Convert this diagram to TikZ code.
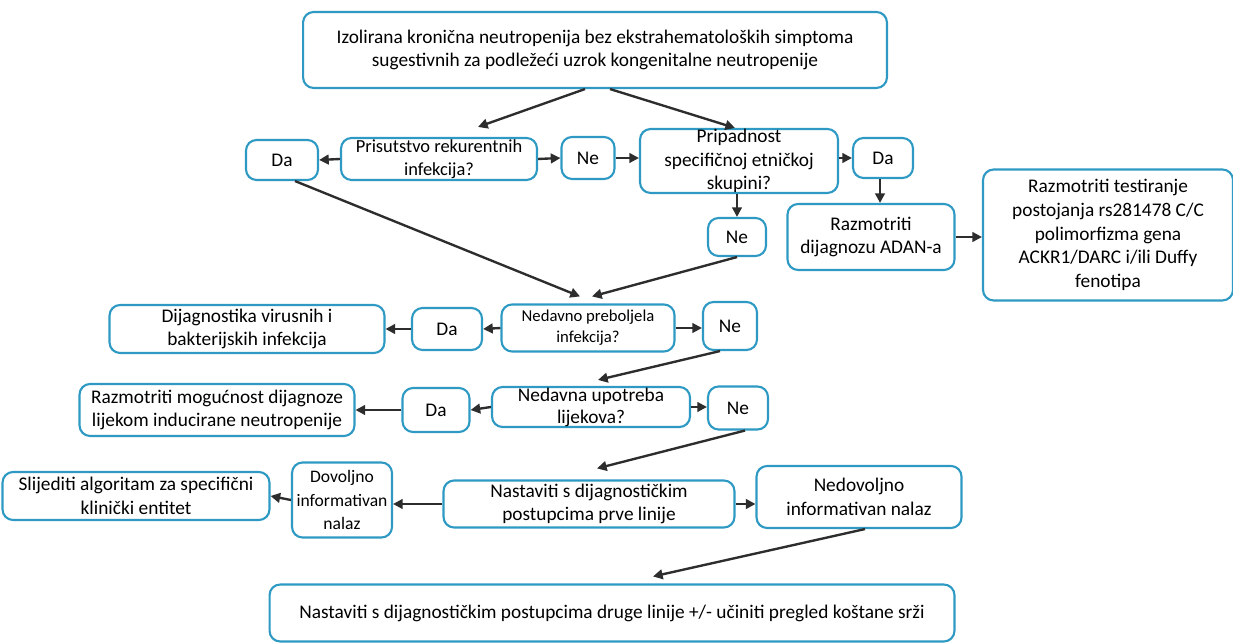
\documentclass[tikz,border=0pt]{standalone}
\usepackage{fontspec}
\setmainfont{Carlito}
\usetikzlibrary{arrows.meta}
\definecolor{boxblue}{RGB}{46,154,196}
\definecolor{arrowgray}{RGB}{45,45,45}

\begin{document}
\begin{tikzpicture}[
        x=0.02cm, y=-0.02cm,
        box/.style={rectangle, draw=boxblue, line width=1.2pt, rounded corners=6pt, fill=white, align=center, inner sep=0pt, font=\fontsize{11}{13.5}\selectfont},
        arrow/.style={draw=arrowgray, line width=1.35pt, -{Triangle[length=5.5pt,width=5.5pt]}}
    ]
    \useasboundingbox (0,0) rectangle (1233,644);

    \node[box, minimum width=11.68cm, minimum height=1.52cm] (start) at (595,50) {Izolirana kronična neutropenija bez ekstrahematoloških simptoma\\sugestivnih za podležeći uzrok kongenitalne neutropenije};

    \node[box, minimum width=1.44cm, minimum height=0.8cm] (daA) at (282,160) {Da};
    \node[box, minimum width=3.92cm, minimum height=0.84cm, font=\fontsize{10.5}{13}\selectfont] (rekur) at (439,159) {Prisutstvo rekurentnih\\infekcija?};
    \node[box, minimum width=1.06cm, minimum height=0.84cm] (neA) at (588,158) {Ne};
    \node[box, minimum width=3.96cm, minimum height=1.24cm] (etnic) at (739,161) {Pripadnost\\specifičnoj etničkoj\\skupini?};
    \node[box, minimum width=1.2cm, minimum height=0.8cm] (daB) at (883,158) {Da};
    \node[box, minimum width=1.16cm, minimum height=0.76cm] (neB) at (737,237) {Ne};
    \node[box, minimum width=3.34cm, minimum height=1.32cm] (adan) at (871,237) {Razmotriti\\dijagnozu ADAN-a};
    \node[box, minimum width=5.0cm, minimum height=2.62cm] (duffy) at (1108,235) {Razmotriti testiranje\\postojanja rs281478 C/C\\polimorfizma gena\\ACKR1/DARC i/ili Duffy\\fenotipa};

    \node[box, minimum width=5.5cm, minimum height=0.96cm] (virus) at (247,329) {Dijagnostika virusnih i\\bakterijskih infekcija};
    \node[box, minimum width=1.4cm, minimum height=0.84cm] (daC) at (447,329) {Da};
    \node[box, minimum width=3.46cm, minimum height=0.94cm, font=\fontsize{9.5}{12}\selectfont] (preboj) at (588,328) {Nedavno preboljela\\infekcija?};
    \node[box, minimum width=1.08cm, minimum height=0.96cm] (neC) at (730,326) {Ne};

    \node[box, minimum width=5.5cm, minimum height=1.04cm] (lijek) at (217,410) {Razmotriti mogućnost dijagnoze\\lijekom inducirane neutropenije};
    \node[box, minimum width=1.34cm, minimum height=0.88cm] (daD) at (436,410) {Da};
    \node[box, minimum width=3.96cm, minimum height=0.8cm, font=\fontsize{11}{12.5}\selectfont] (upotr) at (591,407) {Nedavna upotreba\\lijekova?};
    \node[box, minimum width=1.2cm, minimum height=0.86cm] (neD) at (738,408) {Ne};

    \node[box, minimum width=5.34cm, minimum height=0.96cm] (slijed) at (136,496) {Slijediti algoritam za specifični\\klinički entitet};
    \node[box, minimum width=2.0cm, minimum height=1.5cm, font=\fontsize{10}{13.5}\selectfont] (dovolj) at (342,500) {Dovoljno\\informativan\\nalaz};
    \node[box, minimum width=5.82cm, minimum height=0.94cm] (prva) at (589,504) {Nastaviti s dijagnostičkim\\postupcima prve linije};
    \node[box, minimum width=4.1cm, minimum height=1.24cm] (nedovolj) at (859,497) {Nedovoljno\\informativan nalaz};

    \node[box, minimum width=13.7cm, minimum height=1.14cm] (druga) at (612,613) {Nastaviti s dijagnostičkim postupcima druge linije +/- učiniti pregled koštane srži};

    \draw[arrow] ([xshift=-0.2cm]start.south) -- ([xshift=0.78cm, yshift=0.2cm]rekur.north);
    \draw[arrow] ([xshift=0.3cm]start.south) -- ([xshift=-0.08cm]etnic.north);
    \draw[arrow] (rekur.west) -- (daA.east);
    \draw[arrow] (rekur.east) -- (neA.west);
    \draw[arrow] (neA.east) -- (neA.east -| etnic.west);
    \draw[arrow] (daB.west -| etnic.east) -- (daB.west);
    \draw[arrow] ([xshift=-0.06cm]daB.south) -- ([xshift=-0.06cm]daB.south |- adan.north);
    \draw[arrow] (neB.north |- etnic.south) -- (neB.north);
    \draw[arrow] (adan.east) -- (adan.east -| duffy.west);

    \draw[arrow] ([xshift=0.26cm]daA.south) -- ([xshift=-0.16cm, yshift=0.14cm]preboj.north);
    \draw[arrow] (neB.south) -- ([xshift=0.08cm, yshift=0.14cm]preboj.north);
    \draw[arrow] (preboj.west) -- (daC.east);
    \draw[arrow] (daC.west) -- (virus.east);
    \draw[arrow] (preboj.east) -- (preboj.east -| neC.west);

    \draw[arrow] ([xshift=-0.2cm]neC.south) -- ([xshift=0.14cm, yshift=0.12cm]upotr.north);
    \draw[arrow] (upotr.west) -- (daD.east);
    \draw[arrow] (daD.west) -- (lijek.east);
    \draw[arrow] (upotr.east) -- (upotr.east -| neD.west);

    \draw[arrow] ([xshift=0.14cm]neD.south) -- ([xshift=0.16cm, yshift=0.22cm]prva.north);
    \draw[arrow] (prva.west) -- (prva.west -| dovolj.east);
    \draw[arrow] (dovolj.west) -- (slijed.east);
    \draw[arrow] (prva.east) -- (prva.east -| nedovolj.west);

    \draw[arrow] ([xshift=0.12cm]nedovolj.south) -- ([xshift=0.82cm, yshift=0.14cm]druga.north);
\end{tikzpicture}
\end{document}
